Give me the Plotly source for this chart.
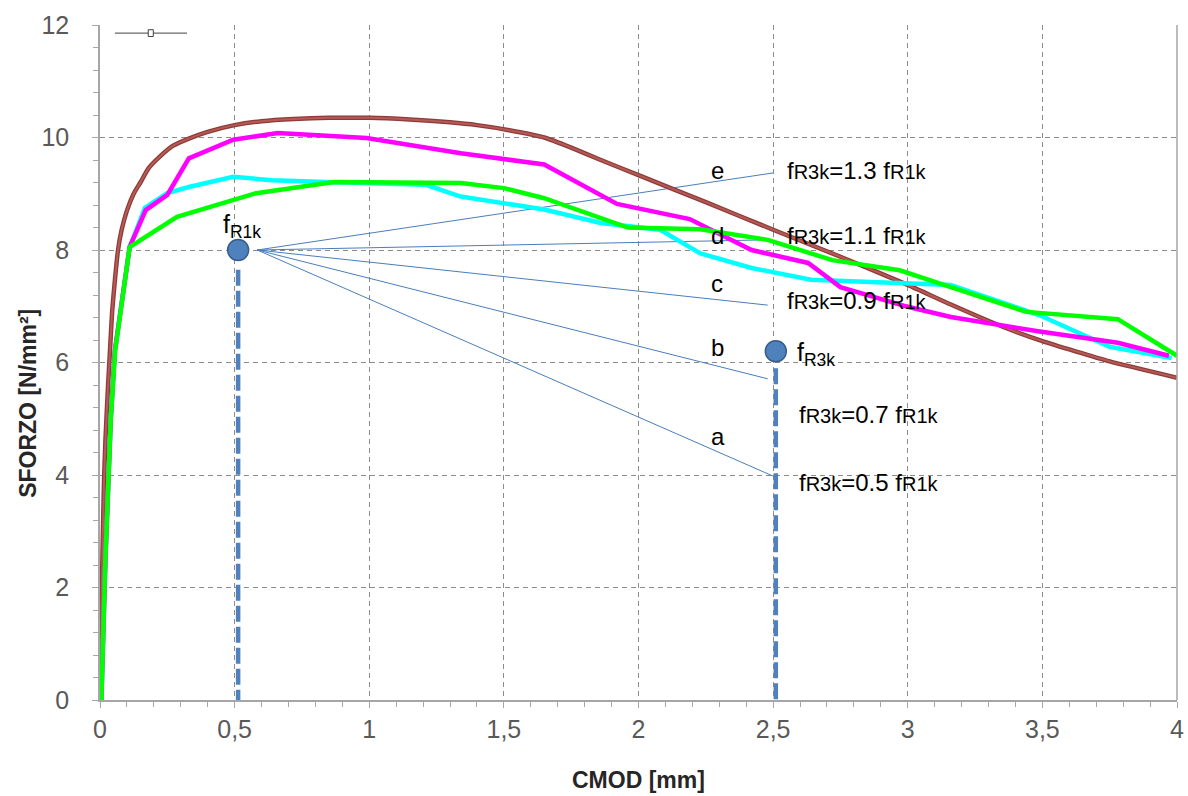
import plotly.graph_objects as go

# ---------------- data ----------------
brown_x = [0, 0.005, 0.01, 0.015, 0.02, 0.03, 0.037, 0.045, 0.056, 0.067, 0.08, 0.1, 0.125, 0.15, 0.18, 0.22,
           0.27, 0.33, 0.4, 0.5, 0.6, 0.72, 0.85, 1.0, 1.15, 1.3, 1.4, 1.52, 1.65, 1.75, 1.86, 2.0, 2.25,
           2.5, 2.75, 3.0, 3.16, 3.35, 3.5, 3.75, 4.0]
brown_y = [0, 1.5, 2.8, 3.9, 4.6, 5.6, 6.2, 6.9, 7.5, 8.0, 8.35, 8.7, 9.0, 9.2, 9.45, 9.65,
           9.85, 9.98, 10.1, 10.22, 10.29, 10.33, 10.35, 10.35, 10.32, 10.27, 10.22, 10.13, 10.0, 9.82, 9.6, 9.33, 8.85,
           8.36, 7.88, 7.38, 7.03, 6.64, 6.38, 6.02, 5.73]

cyan_x = [0.005, 0.02, 0.04, 0.055, 0.11, 0.167, 0.25, 0.33, 0.495, 0.64, 0.84, 1.21, 1.34, 1.65, 1.86,
          2.08, 2.23, 2.42, 2.64, 2.97, 3.16, 3.49, 3.75, 3.98]
cyan_y = [0, 2.5, 5.0, 6.2, 8.05, 8.75, 9.01, 9.12, 9.3, 9.24, 9.21, 9.16, 8.95, 8.72, 8.48,
          8.36, 7.94, 7.68, 7.47, 7.41, 7.38, 6.84, 6.28, 6.08]

magenta_x = [0.005, 0.02, 0.04, 0.055, 0.11, 0.17, 0.25, 0.33, 0.495, 0.66, 0.99, 1.34, 1.65, 1.92,
             2.19, 2.27, 2.42, 2.63, 2.75, 3.0, 3.16, 3.49, 3.78, 3.97]
magenta_y = [0, 2.5, 5.0, 6.2, 8.05, 8.71, 8.98, 9.63, 9.96, 10.08, 9.99, 9.72, 9.52, 8.82,
             8.55, 8.36, 8.0, 7.77, 7.34, 6.99, 6.81, 6.55, 6.35, 6.12]

green_x = [0.005, 0.02, 0.04, 0.056, 0.11, 0.286, 0.58, 0.87, 1.34, 1.5, 1.65, 1.86, 1.96, 2.23, 2.48,
           2.72, 2.97, 3.16, 3.44, 3.78, 4.0]
green_y = [0, 2.5, 5.0, 6.2, 8.05, 8.59, 9.01, 9.21, 9.19, 9.1, 8.92, 8.57, 8.4, 8.37, 8.18,
           7.82, 7.64, 7.34, 6.9, 6.77, 6.12]

# characteristic points
fr_x = [0.513, 2.51]
fr_y = [8.0, 6.2]
drop_top = [7.65, 5.9]

# thin guide lines from f_R1k
guide_start = (0.584, 8.0)
guide_labels = ["e", "d", "c", "b", "a"]
guide_end_x = [2.50, 2.47, 2.48, 2.48, 2.50]
guide_end_y = [9.37, 8.18, 7.02, 5.71, 3.98]

letter_x = [2.26, 2.26, 2.26, 2.26, 2.26]
letter_y = [9.42, 8.25, 7.41, 6.26, 4.69]

ratio_text = ["1.3", "1.1", "0.9", "0.7", "0.5"]
ratio_x = [2.545, 2.545, 2.545, 2.59, 2.59]
ratio_y = [9.42, 8.25, 7.11, 5.07, 3.86]

x_ticks = [0, 0.5, 1, 1.5, 2, 2.5, 3, 3.5, 4]
y_ticks = [0, 2, 4, 6, 8, 10, 12]

# ---------------- figure ----------------
fig = go.Figure()

BLUE = "#4F81BD"
THIN = "#4A7EBB"

for i, lab in enumerate(guide_labels):
    fig.add_trace(go.Scatter(x=[guide_start[0], guide_end_x[i]], y=[guide_start[1], guide_end_y[i]],
                             mode="lines", line=dict(color=THIN, width=1), hoverinfo="skip", showlegend=False))

fig.add_trace(go.Scatter(x=brown_x, y=brown_y, mode="lines", line=dict(color="#8E3B38", width=4.5, shape="spline", smoothing=0.5),
                         showlegend=False, hoverinfo="skip"))
fig.add_trace(go.Scatter(x=brown_x, y=brown_y, mode="lines", line=dict(color="#B55A56", width=2, shape="spline", smoothing=0.5),
                         showlegend=False))
fig.add_trace(go.Scatter(x=cyan_x, y=cyan_y, mode="lines", line=dict(color="#00FFFF", width=4.5), showlegend=False))
fig.add_trace(go.Scatter(x=magenta_x, y=magenta_y, mode="lines", line=dict(color="#FF00FF", width=4.5), showlegend=False))
fig.add_trace(go.Scatter(x=green_x, y=green_y, mode="lines", line=dict(color="#00FF00", width=4.5), showlegend=False))

for i in range(2):
    fig.add_trace(go.Scatter(x=[fr_x[i], fr_x[i]], y=[drop_top[i], 0], mode="lines",
                             line=dict(color=BLUE, width=4.5, dash="16px,5px"), showlegend=False, hoverinfo="skip"))
fig.add_trace(go.Scatter(x=fr_x, y=fr_y, mode="markers",
                         marker=dict(size=21, color=BLUE, line=dict(color="#385D8A", width=1.5)),
                         showlegend=False))

FONT = "Liberation Sans, Arial, sans-serif"
annotations = []
for i in range(5):
    annotations.append(dict(x=letter_x[i], y=letter_y[i], text=guide_labels[i], showarrow=False,
                            xanchor="left", yanchor="middle", font=dict(size=24, color="black", family=FONT)))
    annotations.append(dict(x=ratio_x[i], y=ratio_y[i],
                            text="f<span style='font-size:20px'>R3k</span>=" + ratio_text[i] +
                                 " f<span style='font-size:20px'>R1k</span>",
                            showarrow=False, xanchor="left", yanchor="middle",
                            font=dict(size=24, color="black", family=FONT)))
annotations.append(dict(x=fr_x[0] + 0.015, y=fr_y[0] + 0.42, text="f<sub>R1k</sub>", showarrow=False,
                        xanchor="center", yanchor="middle", font=dict(size=25, color="black", family=FONT)))
annotations.append(dict(x=fr_x[1] + 0.07, y=fr_y[1] - 0.05, text="f<sub>R3k</sub>", showarrow=False,
                        xanchor="left", yanchor="middle", font=dict(size=25, color="black", family=FONT)))
annotations.append(dict(x=0.5, y=-0.118, xref="paper", yref="paper", text="<b>CMOD [mm]</b>", showarrow=False,
                        xanchor="center", yanchor="middle", font=dict(size=23, color="#262626", family=FONT)))
annotations.append(dict(x=-0.067, y=0.44, xref="paper", yref="paper", text="<b>SFORZO [N/mm²]</b>", showarrow=False,
                        textangle=-90, xanchor="center", yanchor="middle", font=dict(size=23, color="#262626", family=FONT)))

shapes = [
    dict(type="line", xref="paper", yref="paper", x0=1, x1=1, y0=0, y1=1, line=dict(color="#A6A6A6", width=1.5)),
    dict(type="line", xref="paper", yref="paper", x0=0.0139, x1=0.0808, y0=0.988, y1=0.988, line=dict(color="#404040", width=1)),
    dict(type="rect", xref="paper", yref="paper", x0=0.0448, x1=0.0495, y0=0.983, y1=0.993,
         line=dict(color="#404040", width=1), fillcolor="white"),
]

GRID = "#8C8C8C"
fig.update_layout(
    width=1188, height=796,
    margin=dict(l=100, r=11, t=25, b=96),
    paper_bgcolor="white", plot_bgcolor="white",
    separators=", ",
    showlegend=False,
    annotations=annotations,
    shapes=shapes,
    font=dict(family=FONT),
)
fig.update_xaxes(range=[0, 4], tickvals=x_ticks, showgrid=True, gridcolor=GRID, griddash="5px,4px", gridwidth=1.3,
                 showline=True, linecolor="#A6A6A6", linewidth=1.5, ticks="outside", ticklen=6, tickcolor="#A6A6A6",
                 tickfont=dict(size=25, color="#595959", family=FONT), zeroline=False, automargin=False,
                 ticklabelstandoff=0,
                 minor=dict(dtick=0.1, ticks="outside", ticklen=5, tickcolor="#A6A6A6", showgrid=False))
fig.update_yaxes(range=[0, 12], tickvals=y_ticks, showgrid=True, gridcolor=GRID, griddash="5px,4px", gridwidth=1.3,
                 showline=True, linecolor="#A6A6A6", linewidth=1.5, ticks="outside", ticklen=6, tickcolor="#A6A6A6",
                 tickfont=dict(size=25, color="#595959", family=FONT), zeroline=False, ticklabelstandoff=18,
                 automargin=False,
                 minor=dict(dtick=0.4, ticks="outside", ticklen=5, tickcolor="#A6A6A6", showgrid=False))

fig.write_html("out.html", config={"displayModeBar": False},
               post_script="document.body.style.margin='0px';document.body.style.padding='0px';")
